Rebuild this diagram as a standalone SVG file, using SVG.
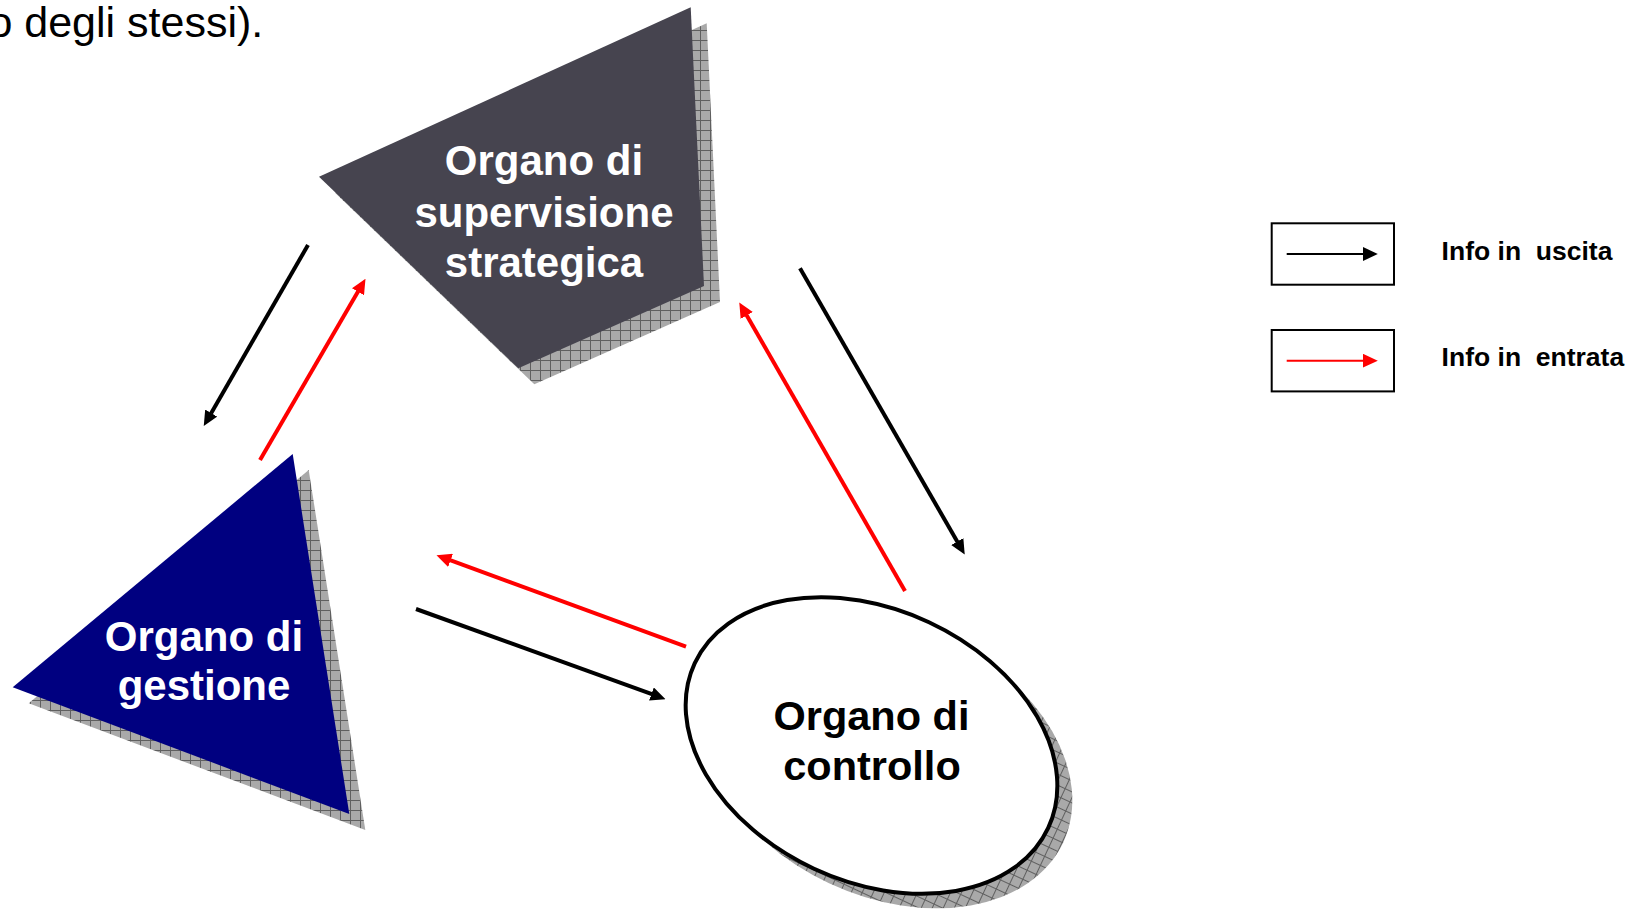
<svg xmlns="http://www.w3.org/2000/svg" width="1637" height="910" viewBox="0 0 1637 910">
  <style>
    .lbl { font-family: "Liberation Sans", Arial, sans-serif; font-weight: bold; text-anchor: middle; }
    .white { fill: #ffffff; }
    .black { fill: #000000; }
    .out { stroke: #000000; stroke-width: 4; fill: none; }
    .in { stroke: #ff0000; stroke-width: 4; fill: none; }
    .legout { stroke: #000000; stroke-width: 2; fill: none; }
    .legin { stroke: #ff0000; stroke-width: 2; fill: none; }
    .shadow { fill: url(#hatch); }
    .legtxt { font-family: "Liberation Sans", Arial, sans-serif; font-weight: bold; font-size: 26.5px; fill: #000; }
  </style>
  <defs>
    <pattern id="hatch" patternUnits="userSpaceOnUse" width="10" height="10">
      <rect width="10" height="10" fill="#a9a9a9"/>
      <path d="M0,0.5 H10 M0.5,0 V10" stroke="#5f5f5f" stroke-width="1"/>
    </pattern>
    <marker id="ahBlack" markerUnits="userSpaceOnUse" viewBox="0 0 15 14" markerWidth="15" markerHeight="14" refX="0.5" refY="7" orient="auto">
      <path d="M0,0 L15,7 L0,14 z" fill="#000000"/>
    </marker>
    <marker id="ahRed" markerUnits="userSpaceOnUse" viewBox="0 0 15 14" markerWidth="15" markerHeight="14" refX="0.5" refY="7" orient="auto">
      <path d="M0,0 L15,7 L0,14 z" fill="#ff0000"/>
    </marker>
  </defs>

  <rect width="1637" height="910" fill="#ffffff"/>

  <text x="-11.6" y="36.5" font-family="Liberation Sans, Arial, sans-serif" font-size="43" fill="#000">o degli stessi).</text>

  <g id="node-supervisione">
    <polygon class="shadow" points="706.7,23.3 335,192.7 534.3,384.3 720,302"/>
    <polygon points="690.7,7.3 319,176.7 518.3,368.3 704,286" fill="#46444f"/>
    <text class="lbl white" font-size="42"><tspan x="544" y="175">Organo di</tspan><tspan x="544" y="226.5">supervisione</tspan><tspan x="544" y="276.5">strategica</tspan></text>
  </g>

  <g id="node-gestione">
    <polygon class="shadow" points="308.7,470 28.7,703.3 365.3,830"/>
    <polygon points="292.7,454 12.7,687.3 349.3,814" fill="#000080"/>
    <text class="lbl white" font-size="42"><tspan x="204" y="650.5">Organo di</tspan><tspan x="204" y="700">gestione</tspan></text>
  </g>

  <g id="node-controllo">
    <ellipse class="shadow" cx="886.5" cy="760" rx="195" ry="136" transform="rotate(25 886.5 760)"/>
    <ellipse cx="871.5" cy="745.5" rx="195" ry="136" transform="rotate(25 871.5 745.5)" fill="#ffffff" stroke="#000000" stroke-width="4"/>
    <text class="lbl black" font-size="41.5"><tspan x="871.5" y="730">Organo di</tspan><tspan x="872" y="780">controllo</tspan></text>
  </g>

  <g id="connectors">
    <line class="out" x1="308" y1="245" x2="211" y2="413.5" marker-end="url(#ahBlack)"/>
    <line class="in" x1="260" y1="460" x2="358.2" y2="291.3" marker-end="url(#ahRed)"/>
    <line class="out" x1="800" y1="268.3" x2="957.5" y2="542" marker-end="url(#ahBlack)"/>
    <line class="in" x1="905" y1="591" x2="746.5" y2="315" marker-end="url(#ahRed)"/>
    <line class="in" x1="686" y1="646.7" x2="450.1" y2="560.2" marker-end="url(#ahRed)"/>
    <line class="out" x1="416" y1="609" x2="651.9" y2="694.2" marker-end="url(#ahBlack)"/>
  </g>

  <g id="legend">
    <rect x="1271.7" y="223.3" width="122.3" height="61.4" fill="#ffffff" stroke="#000000" stroke-width="2"/>
    <line class="legout" x1="1286.7" y1="254" x2="1363.3" y2="254" marker-end="url(#ahBlack)"/>
    <text class="legtxt" x="1441.6" y="260" xml:space="preserve">Info in  uscita</text>
    <rect x="1271.7" y="330" width="122.3" height="61.4" fill="#ffffff" stroke="#000000" stroke-width="2"/>
    <line class="legin" x1="1286.7" y1="360.7" x2="1363.3" y2="360.7" marker-end="url(#ahRed)"/>
    <text class="legtxt" x="1441.6" y="366" xml:space="preserve">Info in  entrata</text>
  </g>
</svg>
